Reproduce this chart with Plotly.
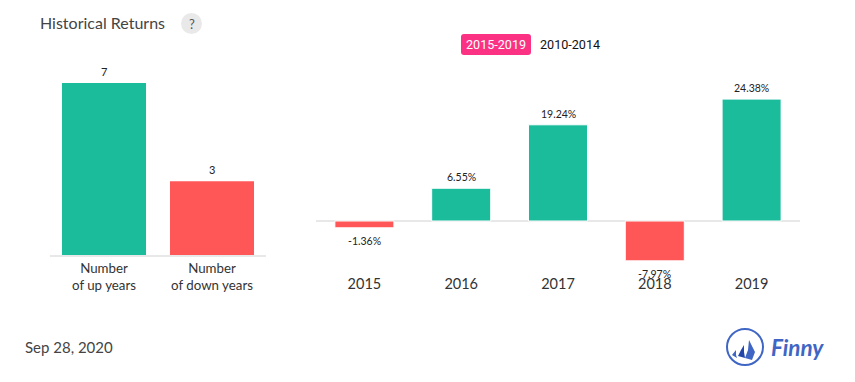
import plotly.graph_objects as go

W, H = 855, 382
GREEN, RED = "#1abc9c", "#ff5757"
count_labels = ["Number<br>of up years", "Number<br>of down years"]
count_values = [7, 3]
years = ["2015", "2016", "2017", "2018", "2019"]
returns = [-1.36, 6.55, 19.24, -7.97, 24.38]
return_labels = ["-1.36%", "6.55%", "19.24%", "-7.97%", "24.38%"]
title = "Historical Returns"
date_text = "Sep 28, 2020"
range_buttons = ["2015-2019", "2010-2014"]


def px(x):
    return x / W


def py(y):
    return 1 - y / H


fig = go.Figure()
fig.add_trace(go.Bar(
    x=count_labels, y=count_values, xaxis="x", yaxis="y", width=0.778,
    marker=dict(color=[GREEN, RED], line=dict(width=0)),
    showlegend=False, hoverinfo="skip",
))
fig.add_trace(go.Bar(
    x=years, y=returns, xaxis="x2", yaxis="y2", width=0.61,
    marker=dict(color=[GREEN if v >= 0 else RED for v in returns],
                line=dict(width=1, color="white")),
    showlegend=False, hoverinfo="skip",
))

shapes = []
# question-mark badge
shapes.append(dict(type="circle", xref="paper", yref="paper",
                   x0=px(181), x1=px(202), y0=py(34), y1=py(13),
                   fillcolor="#e9e9e9", line=dict(width=0)))
# active range button
l, r, t, b = px(461), px(531), py(34), py(55)
dx, dy = px(3), 3 / H
shapes.append(dict(type="path", xref="paper", yref="paper",
                   path=(f"M {l+dx} {t} L {r-dx} {t} Q {r} {t} {r} {t-dy} L {r} {b+dy} "
                         f"Q {r} {b} {r-dx} {b} L {l+dx} {b} Q {l} {b} {l} {b+dy} "
                         f"L {l} {t-dy} Q {l} {t} {l+dx} {t} Z"),
                   fillcolor="#fb3284", line=dict(width=0)))
# logo ring and sails
shapes.append(dict(type="circle", xref="paper", yref="paper",
                   x0=px(727), x1=px(763), y0=py(365), y1=py(329),
                   fillcolor="rgba(0,0,0,0)", line=dict(width=2, color="#3f66c4")))


def poly(points, color):
    path = "M " + " L ".join(f"{px(x)} {py(y)}" for x, y in points) + " Z"
    return dict(type="path", xref="paper", yref="paper", path=path,
                fillcolor=color, line=dict(width=0))


shapes.append(poly([(749, 340), (755, 352), (752, 360), (745, 358), (748, 350)], "#3f66c4"))
shapes.append(poly([(744, 345), (744, 352), (745, 358), (738, 356), (741, 350)], "#2346a8"))
shapes.append(poly([(736, 350), (736, 355), (737, 358), (732, 355)], "#3f66c4"))

annotations = [
    dict(text=title, x=px(38), y=py(22.5), xanchor="left",
         font=dict(family="Lato", size=16, color="#444")),
    dict(text="?", x=px(191.5), y=py(24), xanchor="center",
         font=dict(family="Lato", size=13, color="#555")),
    dict(text=range_buttons[0], x=px(496), y=py(45), xanchor="center",
         font=dict(family="Roboto", size=12.6, color="white")),
    dict(text=range_buttons[1], x=px(570), y=py(45), xanchor="center",
         font=dict(family="Roboto", size=12.6, color="#111")),
    dict(text=date_text, x=px(23), y=py(347), xanchor="left",
         font=dict(family="Lato", size=15, color="#444")),
    dict(text="<b><i>Finny</i></b>", x=px(769), y=py(347), xanchor="left",
         font=dict(family="Lato", size=22.5, color="#3f66c4")),
]
for a in annotations:
    a.update(xref="paper", yref="paper", yanchor="middle", showarrow=False)

# value labels, tied to the bars' own data coordinates
for i, v in enumerate(count_values):
    annotations.append(dict(xref="x", yref="y", x=i, y=v, text=str(v), showarrow=False,
                            yanchor="bottom", yshift=3,
                            font=dict(family="Lato", size=11, color="#222")))
for i, (v, lab) in enumerate(zip(returns, return_labels)):
    annotations.append(dict(xref="x2", yref="y2", x=i, y=v, text=lab, showarrow=False,
                            yanchor="bottom" if v >= 0 else "top",
                            yshift=3 if v >= 0 else -5,
                            font=dict(family="Lato", size=10.5, color="#222")))

fig.update_layout(
    width=W, height=H, autosize=False,
    margin=dict(l=0, r=0, t=0, b=0),
    paper_bgcolor="white", plot_bgcolor="white",
    barmode="overlay", shapes=shapes, annotations=annotations,
    xaxis=dict(domain=[px(50), px(266)], anchor="y", showgrid=False, ticks="",
               type="category", automargin=False,
               showline=True, linecolor="#e8e8e8", linewidth=1.5, tickangle=0,
               tickfont=dict(family="Lato", size=13.3, color="#333")),
    yaxis=dict(domain=[py(255), py(60)], range=[0, 195 / 24.57], visible=False),
    xaxis2=dict(domain=[px(316), px(800)], anchor="y2", showgrid=False, ticks="",
                type="category", automargin=False,
                showline=False, tickangle=0,
                tickfont=dict(family="Lato", size=14.5, color="#333")),
    yaxis2=dict(domain=[py(273), py(60)], range=[-10.4, 32.2], showgrid=False,
                showticklabels=False, ticks="", showline=False,
                zeroline=True, zerolinecolor="#e8e8e8", zerolinewidth=2),
)
fig.write_html("out.html", post_script="document.body.style.margin='0';document.body.style.overflow='hidden';",
               config={"displayModeBar": False})
